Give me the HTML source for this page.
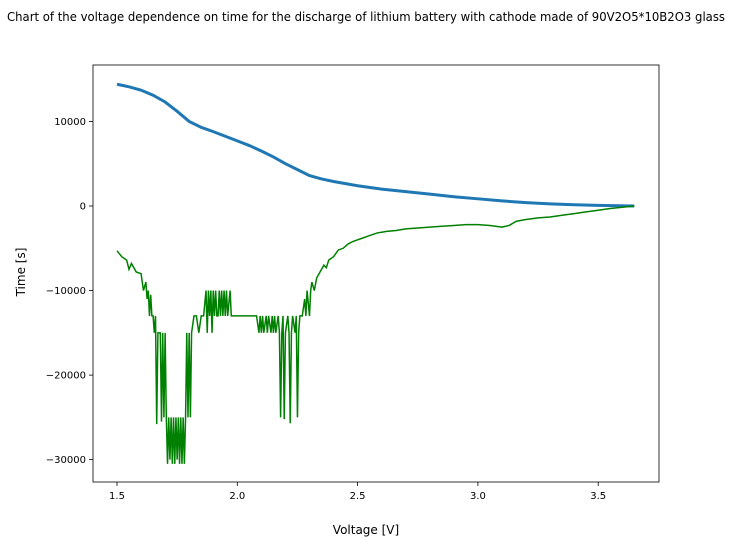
<!DOCTYPE html>
<html><head><meta charset="utf-8"><style>
body{margin:0;background:#fff;font-family:"Liberation Sans","DejaVu Sans",sans-serif;}
svg text{font-family:"DejaVu Sans","Liberation Sans",sans-serif;}
</style></head><body>
<svg id="chart" width="732" height="542" viewBox="0 0 732 542" xmlns="http://www.w3.org/2000/svg">
<rect x="0" y="0" width="732" height="542" fill="#fff"/>
<text x="7" y="21" font-size="12" textLength="718" lengthAdjust="spacingAndGlyphs" fill="#000">Chart of the voltage dependence on time for the discharge of lithium battery with cathode made of 90V2O5*10B2O3 glass</text>
<g id="series"></g>
<rect x="93" y="65" width="566" height="417" fill="none" stroke="#000" stroke-width="0.8"/>
<g id="axes"></g>
<text x="366" y="534" font-size="12" text-anchor="middle">Voltage [V]</text>
<text x="25" y="272" font-size="12" text-anchor="middle" transform="rotate(-90 25 272)">Time [s]</text>
</svg>
<script>
const xTicks=[1.5,2.0,2.5,3.0,3.5];
const xTickLabels=["1.5","2.0","2.5","3.0","3.5"];
const yTicks=[10000,0,-10000,-20000,-30000];
const yTickLabels=["10000","0","−10000","−20000","−30000"];
const blueV=[1.5,1.55,1.6,1.65,1.7,1.75,1.8,1.85,1.9,1.95,2.0,2.05,2.1,2.15,2.2,2.25,2.3,2.35,2.4,2.45,2.5,2.6,2.7,2.8,2.9,3.0,3.1,3.2,3.3,3.4,3.5,3.65];
const blueT=[14400,14100,13700,13100,12300,11200,10000,9300,8800,8250,7700,7150,6500,5800,5000,4300,3600,3200,2900,2650,2400,2000,1700,1400,1100,850,600,400,250,150,80,0];
const greenV=[1.50,1.52,1.54,1.55,1.56,1.58,1.60,1.61,1.62,1.625,1.63,1.635,1.64,1.645,1.65,1.655,1.66,1.665,1.67,1.68,1.685,1.69,1.695,1.70,1.705,1.71,1.715,1.72,1.725,1.73,1.735,1.74,1.745,1.75,1.755,1.76,1.765,1.77,1.775,1.78,1.785,1.79,1.795,1.80,1.805,1.81,1.82,1.83,1.84,1.85,1.86,1.87,1.875,1.88,1.885,1.89,1.895,1.90,1.905,1.91,1.915,1.92,1.925,1.93,1.935,1.94,1.945,1.95,1.955,1.96,1.97,1.975,1.98,2.00,2.02,2.04,2.06,2.08,2.09,2.095,2.10,2.105,2.11,2.12,2.125,2.13,2.14,2.145,2.15,2.155,2.16,2.17,2.175,2.18,2.185,2.19,2.195,2.20,2.21,2.215,2.22,2.225,2.23,2.24,2.245,2.25,2.255,2.26,2.27,2.28,2.285,2.29,2.30,2.305,2.31,2.32,2.33,2.34,2.36,2.37,2.38,2.40,2.42,2.44,2.46,2.48,2.50,2.52,2.55,2.58,2.62,2.66,2.70,2.75,2.80,2.85,2.90,2.95,3.00,3.05,3.10,3.13,3.16,3.20,3.25,3.30,3.35,3.40,3.45,3.50,3.55,3.60,3.65];
const greenT=[-5300,-6000,-6400,-7500,-6800,-7800,-8000,-10000,-9000,-11000,-10000,-13000,-10500,-13000,-13000,-15000,-13000,-25800,-15000,-15000,-25500,-15000,-25000,-15000,-25000,-30500,-25000,-30000,-25000,-30500,-25000,-30500,-25000,-30000,-25000,-30500,-25000,-30500,-25000,-30500,-25000,-15000,-25000,-15000,-25000,-15000,-13000,-13000,-15000,-13000,-13000,-10000,-15000,-10000,-13000,-10000,-15000,-10000,-13000,-10000,-13000,-13000,-10000,-13000,-10000,-13000,-10000,-13000,-10000,-13000,-10000,-13000,-13000,-13000,-13000,-13000,-13000,-13000,-15000,-13000,-15000,-13000,-15000,-13000,-15000,-13000,-15000,-13000,-15000,-13000,-15000,-13000,-15000,-25000,-15000,-13000,-25200,-15000,-13000,-15000,-25700,-15000,-13000,-15000,-13000,-25000,-15000,-13000,-13000,-11000,-13000,-10000,-13000,-10000,-9000,-10000,-8500,-8000,-7000,-7300,-6400,-6000,-5200,-5000,-4500,-4200,-4000,-3800,-3500,-3200,-3000,-2900,-2700,-2600,-2500,-2400,-2300,-2200,-2200,-2300,-2500,-2300,-1800,-1600,-1400,-1300,-1100,-900,-700,-500,-300,-150,0];
const NS="http://www.w3.org/2000/svg";
function xs(v){return 117+(v-1.5)*240.6;}
function ys(t){return 206-t*0.008455;}
const axes=document.getElementById('axes'),series=document.getElementById('series');
function mk(tag,attrs,parent){const e=document.createElementNS(NS,tag);for(const k in attrs)e.setAttribute(k,attrs[k]);parent.appendChild(e);return e;}
xTicks.forEach((v,i)=>{
 const l=mk('line',{x1:xs(v),x2:xs(v),y1:482,y2:486,stroke:'#000','stroke-width':0.8},axes);
 
 
 const t=mk('text',{x:xs(v),y:499,'font-size':10,'text-anchor':'middle'},axes);t.textContent=xTickLabels[i];
 
 
});
yTicks.forEach((v,i)=>{
 const l=mk('line',{x1:89,x2:93,y1:ys(v),y2:ys(v),stroke:'#000','stroke-width':0.8},axes);
 
 
 const t=mk('text',{x:86,y:ys(v)+3.5,'font-size':10,'text-anchor':'end'},axes);t.textContent=yTickLabels[i];
 
 
});
const bp=mk('polyline',{points:blueV.map((v,i)=>xs(v)+','+ys(blueT[i])).join(' '),fill:'none',stroke:'#1f77b4','stroke-width':3},series);


const gp=mk('polyline',{points:greenV.map((v,i)=>xs(v)+','+ys(greenT[i])).join(' '),fill:'none',stroke:'#008000','stroke-width':1.5},series);


</script>
</body></html>
